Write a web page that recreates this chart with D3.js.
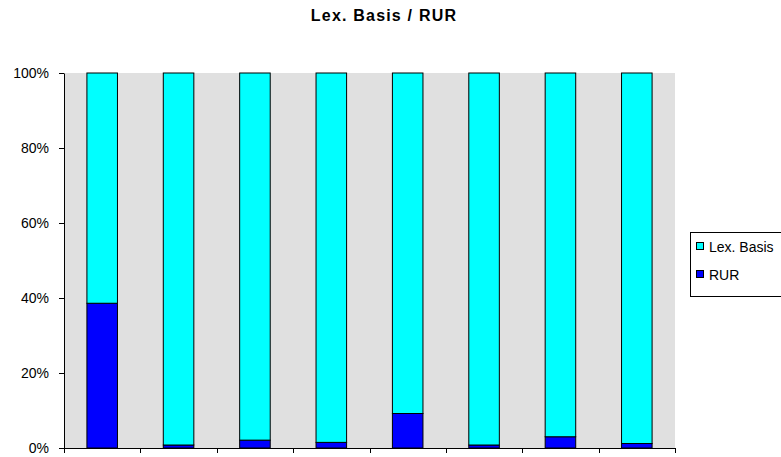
<!DOCTYPE html>
<html><head><meta charset="utf-8">
<script src="https://cdn.jsdelivr.net/npm/d3@7"></script>
<style>body{margin:0;background:#fff}svg{display:block}text{font-family:Arial,"Liberation Sans",sans-serif}</style>
</head><body>
<script>
const categories = ["1","2","3","4","5","6","7","8"];
const rur = [38.6, 0.8, 2.1, 1.5, 9.2, 0.8, 3.0, 1.2];
const lexBasis = rur.map(v => 100 - v);
const seriesNames = ["RUR", "Lex. Basis"];
const seriesColors = ["#0000ff", "#00ffff"];
const yTicks = [0, 20, 40, 60, 80, 100];

const W = 781, H = 457;
const svg = d3.select("body").append("svg").attr("width", W).attr("height", H);
const L = 64, R = 675, T = 73, B = 448;

svg.append("text").attr("x", 384).attr("y", 21).attr("text-anchor", "middle")
  .attr("font-size", 16).attr("font-weight", "bold").attr("letter-spacing", 1.2).text("Lex. Basis / RUR");

svg.append("rect").attr("x", L).attr("y", T).attr("width", R - L).attr("height", B - T).attr("fill", "#e0e0e0");

const x = d3.scaleBand().domain(categories).range([L, R]).paddingInner(0.6).paddingOuter(0.3);
const y = d3.scaleLinear().domain([0, 100]).range([B, T]);

const data = categories.map((c, i) => ({cat: c, RUR: rur[i], "Lex. Basis": lexBasis[i]}));
const stack = d3.stack().keys(seriesNames)(data);

stack.forEach((s, si) => {
  svg.append("g").selectAll("rect").data(s).join("rect")
    .attr("x", d => x(d.data.cat))
    .attr("y", d => y(d[1]))
    .attr("width", x.bandwidth())
    .attr("height", d => y(d[0]) - y(d[1]))
    .attr("fill", seriesColors[si]).attr("stroke", "#000").attr("stroke-width", 1);
});

// Y axis
const ya = svg.append("g").attr("transform", `translate(${L},0)`)
  .call(d3.axisLeft(y).tickValues(yTicks).tickFormat(d => d + "%").tickSize(5).tickSizeOuter(0));
ya.select(".domain").attr("stroke", "#000");
ya.selectAll("text").attr("font-size", 14).attr("fill", "#000").attr("x", -15);

// X axis with ticks at category boundaries
const bounds = d3.range(categories.length + 1).map(i => L + i * (R - L) / categories.length);
svg.append("line").attr("x1", L).attr("x2", R).attr("y1", B + 0.5).attr("y2", B + 0.5).attr("stroke", "#000");
svg.append("g").selectAll("line").data(bounds).join("line")
  .attr("x1", d => Math.round(d) + 0.5).attr("x2", d => Math.round(d) + 0.5)
  .attr("y1", B).attr("y2", B + 5).attr("stroke", "#000");

// Legend
const lg = svg.append("g");
lg.append("rect").attr("x", 690.5).attr("y", 232.5).attr("width", 100).attr("height", 64)
  .attr("fill", "#fff").attr("stroke", "#000");
const legendItems = [{name: "Lex. Basis", color: seriesColors[1], y: 246}, {name: "RUR", color: seriesColors[0], y: 274}];
legendItems.forEach(it => {
  lg.append("rect").attr("x", 696.5).attr("y", it.y - 3.5).attr("width", 7).attr("height", 7)
    .attr("fill", it.color).attr("stroke", "#000");
  lg.append("text").attr("x", 709).attr("y", it.y + 5.5).attr("font-size", 14).text(it.name);
});
</script>
</body></html>
